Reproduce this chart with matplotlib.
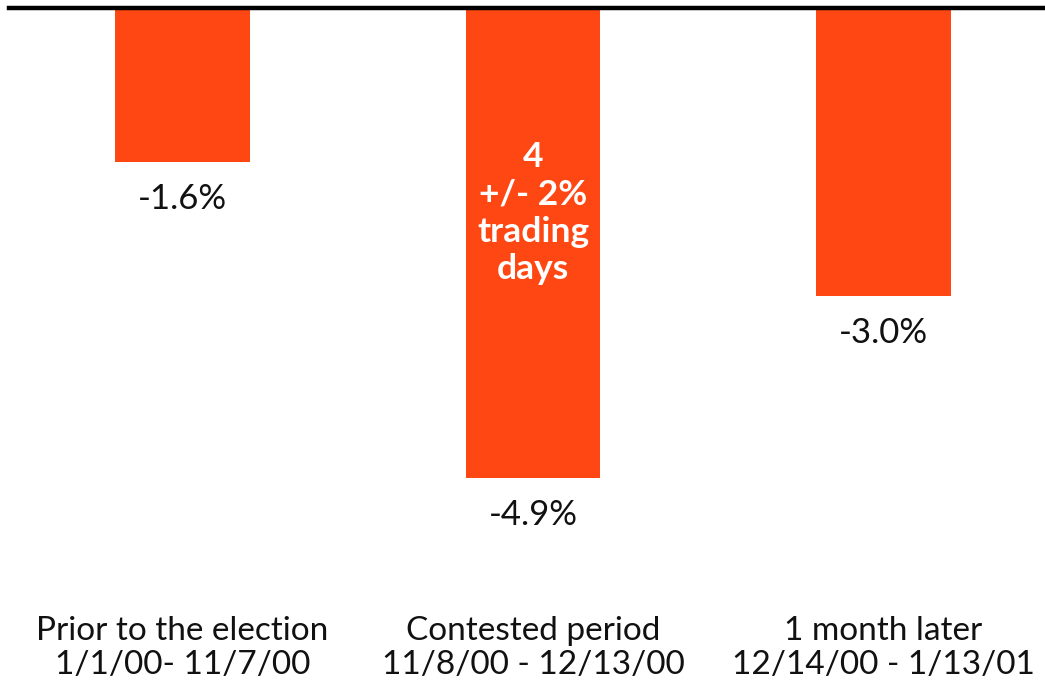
import matplotlib
matplotlib.use("Agg")
import matplotlib.pyplot as plt

categories = ["Prior to the election\n1/1/00- 11/7/00",
              "Contested period\n11/8/00 - 12/13/00",
              "1 month later\n12/14/00 - 1/13/01"]
values = [-1.6, -4.9, -3.0]
value_labels = ["-1.6%", "-4.9%", "-3.0%"]
annotation = "4\n+/- 2%\ntrading\ndays"

BAR_COLOR = "#FF4713"
W, H = 1045, 683
fig = plt.figure(figsize=(W / 100, H / 100), dpi=100)
ax = fig.add_axes([9 / W, 0, (W - 9) / W, (H - 8) / H])
px_per_x = 350.5
x0 = -(182.5 - 9) / px_per_x
ax.set_xlim(x0, x0 + (W - 9) / px_per_x)
px_per_pct = 96.0
ax.set_ylim(-(H - 8) / px_per_pct, 0)
ax.axis("off")

xs = list(range(len(values)))
ax.bar(xs, values, width=0.383, color=BAR_COLOR, zorder=2)
ax.axhline(0, color="black", lw=3.2, zorder=3, clip_on=False)

font = "Lato"
for x, v, lab in zip(xs, values, value_labels):
    ax.annotate(lab, (x, v), xytext=(0, -37 * 72 / 100), textcoords="offset points",
                ha="center", va="center", fontsize=25, family=font, color="#111111")

ax.text(1, -(213 - 8) / px_per_pct, annotation, ha="center", va="center", fontsize=25.5,
        family=font, fontweight="bold", color="white", linespacing=1.2, zorder=4)

for x, cat in zip(xs, categories):
    ax.text(x, -(648 - 8) / px_per_pct, cat, ha="center", va="center",
            fontsize=24, family=font, color="#111111", linespacing=1.13)

fig.savefig("out.png", dpi=100)
